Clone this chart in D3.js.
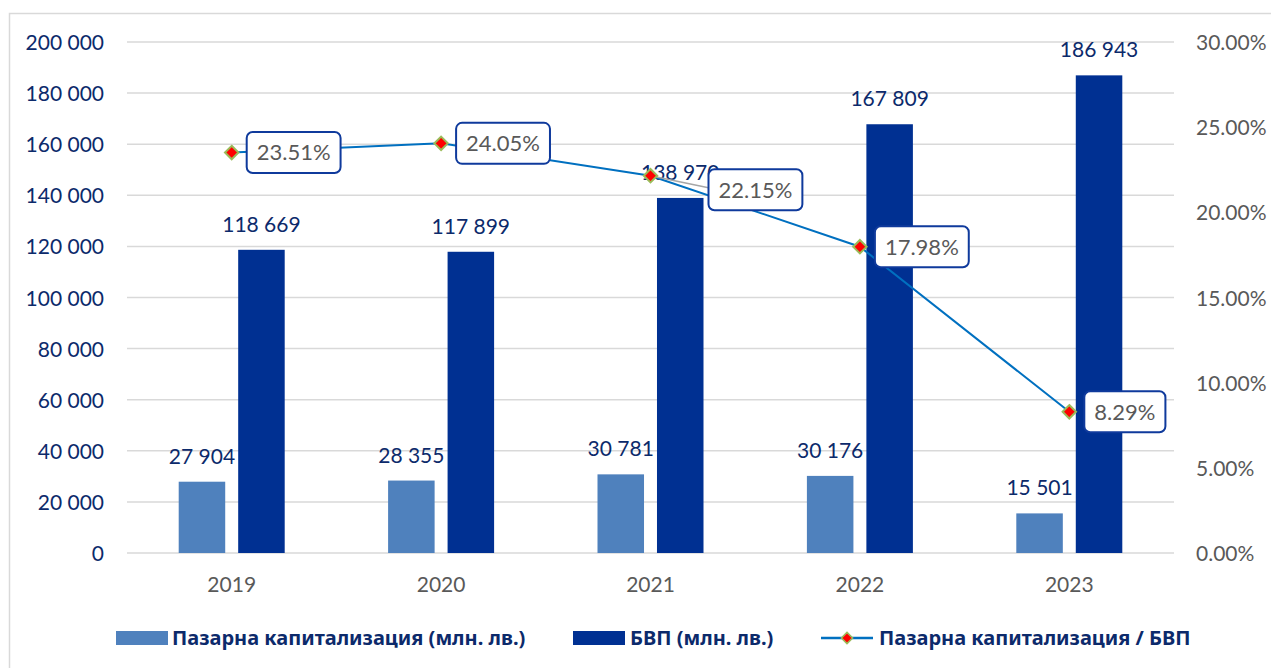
<!DOCTYPE html>
<html>
<head>
<meta charset="utf-8">
<script src="https://cdn.jsdelivr.net/npm/d3@7"></script>
<style>
  body { margin: 0; background: #fff; }
  svg { display: block; }
</style>
</head>
<body>
<script>
// data
var years = ["2019", "2020", "2021", "2022", "2023"];
var marketCap = [27904, 28355, 30781, 30176, 15501];
var gdp = [118669, 117899, 138970, 167809, 186943];
var ratio = [23.51, 24.05, 22.15, 17.98, 8.29];
var leftTicks = [0, 20000, 40000, 60000, 80000, 100000, 120000, 140000, 160000, 180000, 200000];
var rightTicks = [0, 5, 10, 15, 20, 25, 30];
var seriesNames = ["Пазарна капитализация (млн. лв.)", "БВП (млн. лв.)", "Пазарна капитализация / БВП"];

// where the % label boxes sit relative to their point (label layout)
var labelShift = [[15, 0], [15, 0], [58, 14], [15, 0], [15, 0]];

var W = 1271, H = 668;
var plot = {left: 127, right: 1174, top: 42, bottom: 553};

var svg = d3.select("body").append("svg")
  .attr("width", W)
  .attr("height", H);

// outer frame
svg.append("rect")
  .attr("x", 9.5).attr("y", 13.5)
  .attr("width", 1300).attr("height", 700)
  .attr("fill", "none")
  .attr("stroke", "#d9d9d9")
  .attr("stroke-width", 1.5);

var x = d3.scaleBand().domain(years).range([plot.left, plot.right]);
var y = d3.scaleLinear().domain([0, 200000]).range([plot.bottom, plot.top]);
var y2 = d3.scaleLinear().domain([0, 30]).range([plot.bottom, plot.top]);
var sub = d3.scaleBand().domain([0, 1]).range([-53, 53]).paddingInner(0.218);

var fmt = function(v) { return d3.format(",")(v).replace(/,/g, " "); };

// gridlines
svg.append("g").selectAll("line")
  .data(leftTicks)
  .enter().append("line")
    .attr("x1", plot.left).attr("x2", plot.right)
    .attr("y1", function(d) { return y(d); })
    .attr("y2", function(d) { return y(d); })
    .attr("stroke", "#d9d9d9")
    .attr("stroke-width", 1.5);

// left axis
var yAxis = d3.axisLeft(y).tickValues(leftTicks).tickSize(0).tickPadding(0).tickFormat(fmt);
var gy = svg.append("g").attr("transform", "translate(104,0)").call(yAxis);
gy.select(".domain").remove();
gy.selectAll("text")
  .attr("font-family", "Lato, sans-serif")
  .attr("font-size", 21)
  .attr("fill", "#0c2a6b")
  .attr("dy", "0.36em");

// right axis
var y2Axis = d3.axisRight(y2).tickValues(rightTicks).tickSize(0).tickPadding(0)
  .tickFormat(function(d) { return d.toFixed(2) + "%"; });
var gy2 = svg.append("g").attr("transform", "translate(1196,0)").call(y2Axis);
gy2.select(".domain").remove();
gy2.selectAll("text")
  .attr("font-family", "Lato, sans-serif")
  .attr("font-size", 21)
  .attr("fill", "#595959")
  .attr("dy", "0.36em");

// x axis
var xAxis = d3.axisBottom(x).tickSize(0).tickPadding(0);
var gx = svg.append("g").attr("transform", "translate(0,592)").call(xAxis);
gx.select(".domain").remove();
gx.selectAll("text")
  .attr("font-family", "Lato, sans-serif")
  .attr("font-size", 21)
  .attr("fill", "#595959")
  .attr("dy", 0)
  .attr("y", 0);

// bars
var barColors = ["#4f81bd", "#003092"];
var series = [marketCap, gdp];
series.forEach(function(vals, s) {
  var g = svg.append("g");
  g.selectAll("rect")
    .data(vals)
    .enter().append("rect")
      .attr("x", function(d, i) { return x(years[i]) + x.bandwidth() / 2 + sub(s); })
      .attr("y", function(d) { return y(d); })
      .attr("width", sub.bandwidth())
      .attr("height", function(d) { return y(0) - y(d); })
      .attr("fill", barColors[s]);
  g.selectAll("text")
    .data(vals)
    .enter().append("text")
      .attr("x", function(d, i) { return x(years[i]) + x.bandwidth() / 2 + sub(s) + sub.bandwidth() / 2; })
      .attr("y", function(d) { return y(d) - 18; })
      .attr("text-anchor", "middle")
      .attr("font-family", "Lato, sans-serif")
      .attr("font-size", 21)
      .attr("fill", "#0c2a6b")
      .text(fmt);
});

// ratio line
var cx = function(d, i) { return x(years[i]) + x.bandwidth() / 2; };
var line = d3.line()
  .x(cx)
  .y(function(d) { return y2(d); });

svg.append("path")
  .datum(ratio)
  .attr("d", line)
  .attr("fill", "none")
  .attr("stroke", "#0070c0")
  .attr("stroke-width", 2);

// leader line for shifted label
svg.append("g").selectAll("line")
  .data(ratio)
  .enter().filter(function(d, i) { return labelShift[i][1] != 0; })
  .append("line")
    .attr("x1", function(d, i) { var k = ratio.indexOf(d); return cx(d, k); })
    .attr("y1", function(d) { return y2(d); })
    .attr("x2", function(d) { var k = ratio.indexOf(d); return cx(d, k) + labelShift[k][0]; })
    .attr("y2", function(d) { var k = ratio.indexOf(d); return y2(d) + labelShift[k][1] - 2; })
    .attr("stroke", "#a6a6a6")
    .attr("stroke-width", 1.5);

// markers
var diamond = d3.symbol().type(d3.symbolDiamond2).size(115);
svg.append("g").selectAll("path")
  .data(ratio)
  .enter().append("path")
    .attr("d", diamond)
    .attr("transform", function(d, i) { return "translate(" + cx(d, i) + "," + y2(d) + ")"; })
    .attr("fill", "#ff0000")
    .attr("stroke", "#9bbb59")
    .attr("stroke-width", 2);

// % label boxes
var lab = svg.append("g").selectAll("g")
  .data(ratio)
  .enter().append("g")
    .attr("transform", function(d, i) {
      return "translate(" + (cx(d, i) + labelShift[i][0]) + "," + (y2(d) + labelShift[i][1]) + ")";
    });
var box = lab.append("rect");
var lt = lab.append("text")
  .attr("font-family", "Lato, sans-serif")
  .attr("font-size", 22)
  .attr("fill", "#595959")
  .attr("dy", "0.36em")
  .text(function(d) { return d.toFixed(2) + "%"; });
lt.each(function() {
  var w = this.getComputedTextLength();
  d3.select(this).attr("x", 10);
  d3.select(this.parentNode).select("rect")
    .attr("x", 0).attr("y", -20.5)
    .attr("width", w + 20).attr("height", 41)
    .attr("rx", 6)
    .attr("fill", "#fff")
    .attr("stroke", "#0f3a9c")
    .attr("stroke-width", 2);
});

// legend
var leg = svg.append("g").attr("transform", "translate(0,638)");
leg.append("rect").attr("x", 116).attr("y", -7).attr("width", 52).attr("height", 14).attr("fill", barColors[0]);
leg.append("rect").attr("x", 573).attr("y", -7).attr("width", 52).attr("height", 14).attr("fill", barColors[1]);
leg.append("line").attr("x1", 821).attr("x2", 873).attr("y1", 0).attr("y2", 0)
  .attr("stroke", "#0070c0").attr("stroke-width", 2.5);
leg.append("path").attr("d", d3.symbol().type(d3.symbolDiamond2).size(80))
  .attr("transform", "translate(847,0)")
  .attr("fill", "#ff0000").attr("stroke", "#9bbb59").attr("stroke-width", 1.5);
var legX = [172, 630, 879];
leg.selectAll("text")
  .data(seriesNames)
  .enter().append("text")
    .attr("x", function(d, i) { return legX[i]; })
    .attr("dy", "0.36em")
    .attr("font-family", "'Noto Sans', sans-serif")
    .attr("font-weight", "bold")
    .attr("font-size", 20)
    .attr("fill", "#0c2a6b")
    .text(function(d) { return d; });
</script>
</body>
</html>
